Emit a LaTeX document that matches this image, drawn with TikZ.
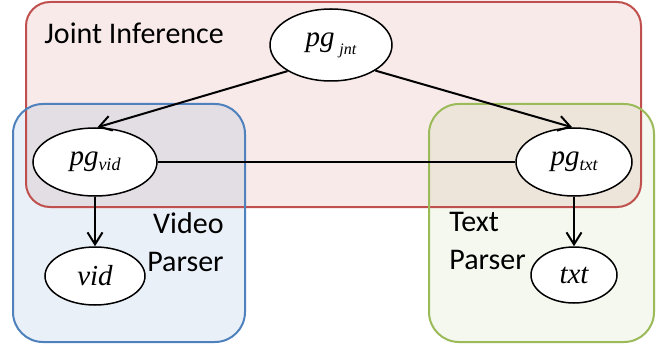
\documentclass[tikz,border=0pt]{standalone}
\usepackage{fontspec}
\setmainfont{Carlito}
\newfontfamily\timesfont{Liberation Serif}
\usetikzlibrary{shapes.geometric,arrows.meta}
\definecolor{jointred}{HTML}{C0504D}
\definecolor{videoblue}{HTML}{4F81BD}
\definecolor{textgreen}{HTML}{9BBB59}
\tikzset{
    var/.style={ellipse,draw,line width=0.75pt,fill=white,inner sep=0pt,
        font=\timesfont\itshape\fontsize{14.5}{14.5}\selectfont},
    link/.style={line width=1pt,-{Straight Barb[length=6pt,width=7.5pt]}},
    grouplabel/.style={inner sep=0pt,font=\fontsize{15}{19}\selectfont}
}
\begin{document}
\begin{tikzpicture}[x=0.5pt,y=-0.5pt]
    \useasboundingbox (0,0) rectangle (672,347);
    % group boxes
    \begin{scope}[fill opacity=0.12]
        \fill[jointred,rounded corners=12pt] (26,2) rectangle (641,207);
        \fill[videoblue,rounded corners=15pt] (13,104) rectangle (245,342);
        \fill[textgreen,fill opacity=0.1,rounded corners=15pt] (429,104) rectangle (654,342);
    \end{scope}
    \draw[jointred,line width=1pt,rounded corners=12pt] (26,2) rectangle (641,207);
    \draw[videoblue,line width=1pt,rounded corners=15pt] (13,104) rectangle (245,342);
    \draw[textgreen,line width=1pt,rounded corners=15pt] (429,104) rectangle (654,342);
    \node[grouplabel,anchor=base west] (jointlabel) at (44,44) {Joint Inference};
    \node[grouplabel,align=right,anchor=north east] (videolabel) at (224,212) {Video\\Parser};
    \node[grouplabel,align=left,anchor=north west] (textlabel) at (449,212) {Text\\Parser};
    % variables
    \node[var,minimum width=61pt,minimum height=36pt] (jnt) at (331,45) {pg\,\raisebox{-4pt}{\fontsize{8}{8}\selectfont jnt}};
    \node[var,minimum width=62pt,minimum height=34pt] (pgvid) at (95,162) {pg\raisebox{-2.5pt}{\fontsize{9}{9}\selectfont vid}};
    \node[var,minimum width=58pt,minimum height=34pt] (pgtxt) at (574,162) {pg\raisebox{-2.5pt}{\fontsize{9}{9}\selectfont txt}};
    \node[var,minimum width=50pt,minimum height=29pt] (vid) at (95,276) {vid};
    \node[var,minimum width=43pt,minimum height=28pt] (txt) at (574,275) {txt};
    % connectors
    \draw[link] (jnt.211) -- (pgvid.86);
    \draw[link] (jnt.330) -- (pgtxt.93);
    \draw[link] (pgvid.south) -- (vid.north);
    \draw[link] (pgtxt.south) -- (txt.north);
    \draw[line width=0.75pt] (pgvid.east) -- (pgtxt.west);
\end{tikzpicture}
\end{document}
